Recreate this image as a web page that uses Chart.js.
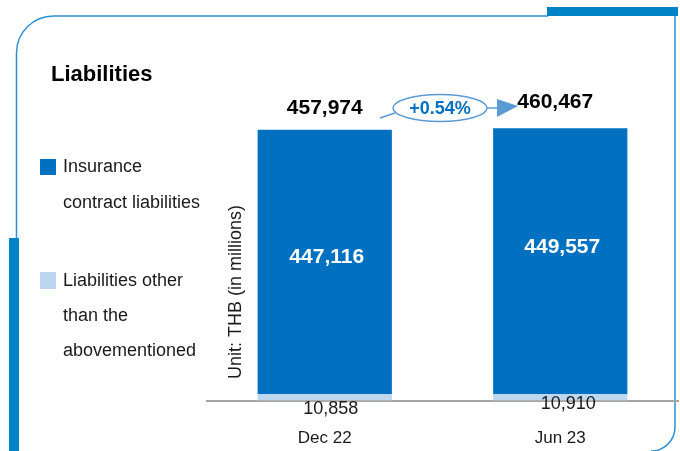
<!DOCTYPE html>
<html lang="en">
<head>
<meta charset="UTF-8">
<title>Liabilities</title>
<script src="https://cdn.jsdelivr.net/npm/chart.js"></script>
<style>
  body { margin: 0; background: #fff; }
  #chart { display: block; }
</style>
</head>
<body>
<canvas id="chart" width="680" height="451"></canvas>
<script>
// data
const periods = ['Dec 22', 'Jun 23'];
const insuranceLiab = [447116, 449557];
const otherLiab = [10858, 10910];
const totals = [457974, 460467];
const growthText = '+0.54%';
const insuranceLegend = ['Insurance', 'contract liabilities'];
const otherLegend = ['Liabilities other', 'than the', 'abovementioned'];

const DARK = '#0070c0';
const LIGHT = '#bdd7ee';
const FONT = '"Liberation Sans", Arial, sans-serif';

const fmt = v => v.toLocaleString('en-US');

// frame, title, legend and unit text
const framePlugin = {
  id: 'frame',
  beforeDraw(chart) {
    const ctx = chart.ctx;
    ctx.save();
    ctx.fillStyle = '#fff';
    ctx.fillRect(0, 0, chart.width, chart.height);

    // thin rounded outline
    ctx.strokeStyle = '#2a8fd6';
    ctx.lineWidth = 1.5;
    ctx.beginPath();
    ctx.moveTo(16.5, 451);
    ctx.lineTo(16.5, 53);
    ctx.arcTo(16.5, 16, 53, 16, 37);
    ctx.lineTo(548, 16);
    ctx.moveTo(675, 16);
    ctx.lineTo(675, 427);
    ctx.arcTo(675, 451, 651, 451, 24);
    ctx.stroke();

    // thick accents
    ctx.fillStyle = '#0083c6';
    ctx.fillRect(547, 7, 131, 9);
    ctx.fillRect(9, 238, 10, 213);

    // title
    ctx.fillStyle = '#000';
    ctx.textBaseline = 'middle';
    ctx.textAlign = 'left';
    ctx.font = 'bold 22px ' + FONT;
    ctx.fillText('Liabilities', 51, 75);

    // legend
    const ds = chart.data.datasets;
    ctx.font = '18px ' + FONT;
    ctx.fillStyle = ds[1].backgroundColor;
    ctx.fillRect(40, 159, 16, 16);
    ctx.fillStyle = ds[0].backgroundColor;
    ctx.fillRect(40, 272, 16, 17);
    ctx.fillStyle = '#1a1a1a';
    insuranceLegend.forEach((t, i) => ctx.fillText(t, 63, 167 + i * 36));
    otherLegend.forEach((t, i) => ctx.fillText(t, 63, 281 + i * 35));

    // unit label
    ctx.save();
    ctx.translate(236, 292);
    ctx.rotate(-Math.PI / 2);
    ctx.textAlign = 'center';
    ctx.fillText('Unit: THB (in millions)', 0, 0);
    ctx.restore();
    ctx.restore();
  }
};

// value labels, totals and growth callout
const labelPlugin = {
  id: 'valueLabels',
  afterDatasetsDraw(chart) {
    const ctx = chart.ctx;
    const lower = chart.getDatasetMeta(0).data;
    const upper = chart.getDatasetMeta(1).data;
    ctx.save();
    ctx.textAlign = 'center';
    ctx.textBaseline = 'middle';

    const innerDy = [-5, -14];
    const baseDx = [6, 8];
    const baseDy = [8, 3];
    const totalDx = [0, -5];
    const totalDy = [-22, -26];

    upper.forEach((bar, i) => {
      ctx.font = 'bold 21px ' + FONT;
      ctx.fillStyle = '#fff';
      ctx.fillText(fmt(insuranceLiab[i]), bar.x + 2, (bar.y + bar.base) / 2 + innerDy[i]);

      ctx.fillStyle = '#000';
      ctx.fillText(fmt(totals[i]), bar.x + totalDx[i], bar.y + totalDy[i]);

      ctx.font = '18px ' + FONT;
      ctx.fillStyle = '#1a1a1a';
      ctx.fillText(fmt(otherLiab[i]), lower[i].x + baseDx[i], lower[i].base + baseDy[i]);
    });

    // growth ellipse with arrow
    const cx = (upper[0].x + upper[1].x) / 2 - 2.5;
    const cy = 108;
    ctx.strokeStyle = '#5b9bd5';
    ctx.fillStyle = '#5b9bd5';
    ctx.lineWidth = 1.5;
    ctx.beginPath();
    ctx.moveTo(cx - 60, 118);
    ctx.lineTo(cx - 45, 113);
    ctx.stroke();
    ctx.beginPath();
    ctx.moveTo(cx + 47, cy);
    ctx.lineTo(cx + 58, cy);
    ctx.stroke();
    ctx.beginPath();
    ctx.moveTo(cx + 57, cy - 9);
    ctx.lineTo(cx + 78, cy - 2);
    ctx.lineTo(cx + 57, cy + 9);
    ctx.closePath();
    ctx.fill();
    ctx.beginPath();
    ctx.ellipse(cx, cy, 47, 13.5, 0, 0, Math.PI * 2);
    ctx.fillStyle = '#fff';
    ctx.fill();
    ctx.stroke();
    ctx.font = 'bold 18px ' + FONT;
    ctx.fillStyle = DARK;
    ctx.fillText(growthText, cx, cy + 1);
    ctx.restore();
  }
};

new Chart(document.getElementById('chart'), {
  type: 'bar',
  data: {
    labels: periods,
    datasets: [
      {
        label: 'Liabilities other than the abovementioned',
        data: otherLiab,
        backgroundColor: LIGHT
      },
      {
        label: 'Insurance contract liabilities',
        data: insuranceLiab,
        backgroundColor: DARK
      }
    ]
  },
  options: {
    responsive: false,
    devicePixelRatio: 1,
    animation: false,
    barPercentage: 0.57,
    categoryPercentage: 1,
    layout: { padding: { left: 207, right: 2, top: 105, bottom: -26 } },
    plugins: {
      legend: { display: false },
      tooltip: { enabled: false }
    },
    scales: {
      x: {
        stacked: true,
        grid: { display: false, drawTicks: false },
        border: { display: true, color: '#a6a6a6', width: 2 },
        ticks: {
          color: '#1a1a1a',
          font: { family: FONT, size: 17 },
          padding: 28
        }
      },
      y: {
        stacked: true,
        display: false,
        min: 0,
        max: 500000
      }
    }
  },
  plugins: [framePlugin, labelPlugin]
});
</script>
</body>
</html>
